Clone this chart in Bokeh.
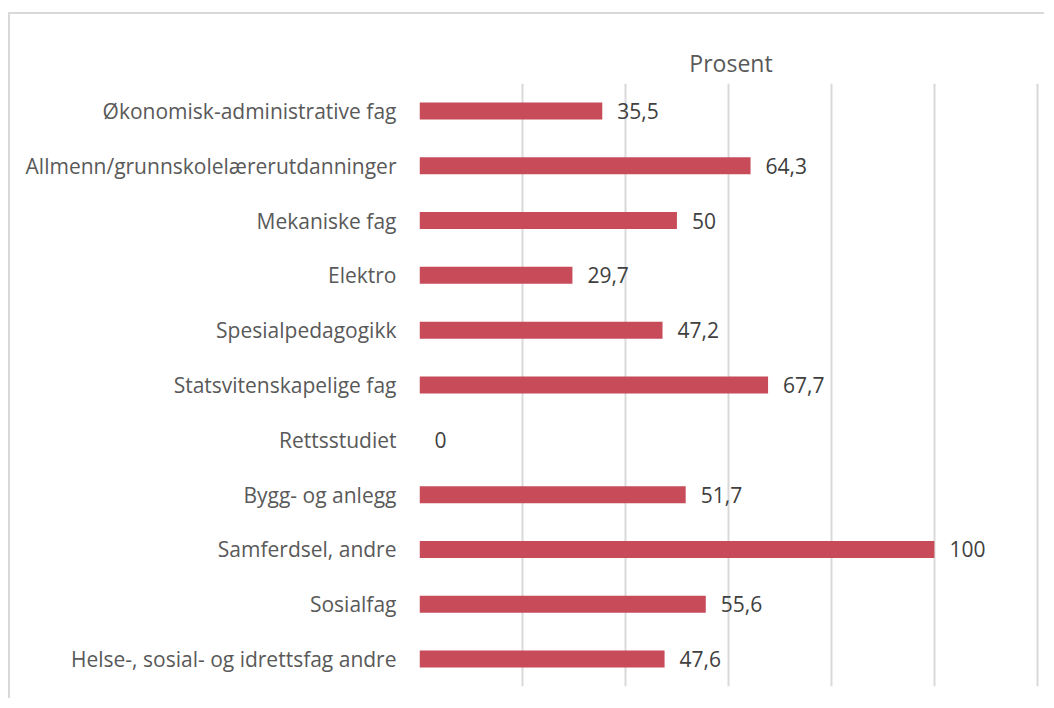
from bokeh.plotting import figure
from bokeh.models import FactorRange, Range1d, ColumnDataSource, FixedTicker
from bokeh.embed import file_html
from bokeh.resources import INLINE
from bokeh.core.properties import value

categories = [
    "Økonomisk-administrative fag",
    "Allmenn/grunnskolelærerutdanninger",
    "Mekaniske fag",
    "Elektro",
    "Spesialpedagogikk",
    "Statsvitenskapelige fag",
    "Rettsstudiet",
    "Bygg- og anlegg",
    "Samferdsel, andre",
    "Sosialfag",
    "Helse-, sosial- og idrettsfag andre",
]
values = [35.5, 64.3, 50, 29.7, 47.2, 67.7, 0, 51.7, 100, 55.6, 47.6]
x_ticks = [0, 20, 40, 60, 80, 100, 120]
title_text = "Prosent"

labels = [f"{v:g}".replace(".", ",") for v in values]
src = ColumnDataSource(dict(cat=categories, val=values, lab=labels))

FONT = "Open Sans"

p = figure(
    width=1036, height=686,
    y_range=FactorRange(*list(reversed(categories)), range_padding=0),
    x_range=Range1d(0, 121),
    output_backend="svg", toolbar_location=None,
    min_border_left=409, min_border_right=4,
    min_border_top=69, min_border_bottom=14,
)
p.styles = {"margin-left": "8px", "margin-top": "12px",
            "border-top": "2px solid #D9D9D9",
            "border-left": "2px solid #D9D9D9"}

p.title.text = title_text
p.title.align = "center"
p.title.text_font = FONT
p.title.text_font_size = "23px"
p.title.text_font_style = "normal"
p.title.text_color = "#595959"
p.title.standoff = 9
p.title.offset = -6

p.hbar(y="cat", right="val", left=0, height=0.31, source=src,
       fill_color="#C84B5A", line_color=None)
p.text(x="val", y="cat", text="lab", source=src, x_offset=15,
       text_baseline="middle", text_align="left",
       text_font=value(FONT), text_font_size="21px", text_color="#404040")

p.outline_line_color = None
p.ygrid.grid_line_color = None
p.xgrid.ticker = FixedTicker(ticks=x_ticks)
p.xgrid.grid_line_color = "#D9D9D9"
p.xgrid.grid_line_width = 2

p.xaxis.visible = False
p.yaxis.axis_line_color = None
p.yaxis.major_tick_line_color = None
p.yaxis.minor_tick_line_color = None
p.yaxis.major_label_standoff = 17
p.yaxis.major_label_text_font = FONT
p.yaxis.major_label_text_font_size = "21px"
p.yaxis.major_label_text_color = "#595959"

open("out.html", "w").write(file_html(p, INLINE))
